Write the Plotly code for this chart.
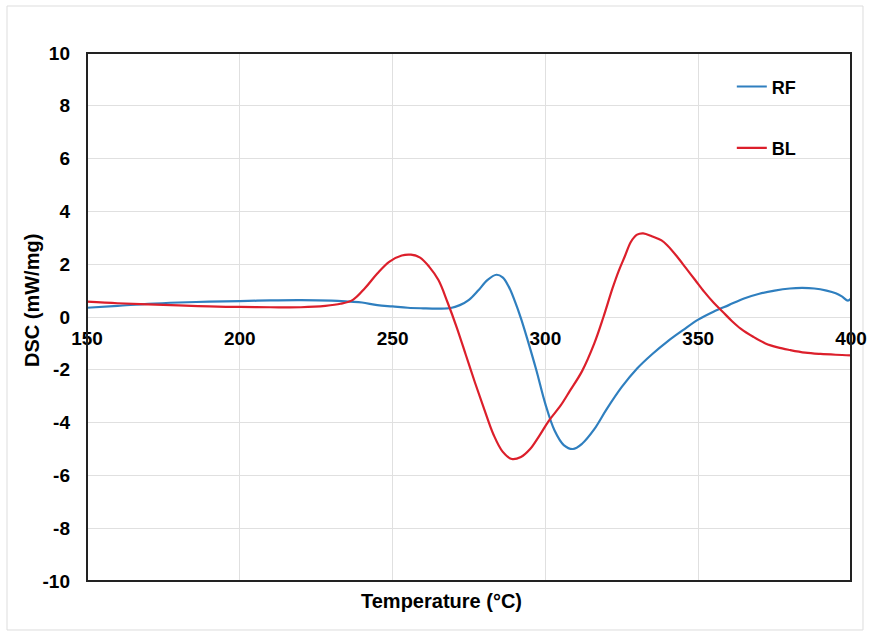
import plotly.graph_objects as go

# RF (blue) series
rf_temp = [150, 160, 170, 180, 190, 200, 210, 220, 230, 236, 240, 245, 250, 255, 260, 265, 269, 272, 275, 278, 281, 284,
           286, 288, 290, 292, 294, 297, 300, 303, 306, 309, 312, 316, 320, 325, 330, 335, 340, 345, 350, 355, 360,
           365, 370, 375, 380, 384, 388, 392, 395, 397, 399, 400]
rf_dsc = [0.35, 0.42, 0.5, 0.55, 0.58, 0.6, 0.63, 0.64, 0.62, 0.58, 0.55, 0.45, 0.4, 0.35, 0.33, 0.32, 0.34, 0.45, 0.65, 1.0, 1.4, 1.6,
          1.5, 1.15, 0.6, -0.05, -0.8, -2.0, -3.3, -4.3, -4.85, -5.0, -4.8, -4.25, -3.5, -2.65, -1.95, -1.4, -0.92, -0.5, -0.1, 0.2, 0.45,
          0.7, 0.88, 1.0, 1.08, 1.1, 1.08, 1.0, 0.9, 0.78, 0.62, 0.7]

# BL (red) series
bl_temp = [150, 160, 170, 180, 190, 200, 210, 220, 228, 233, 237, 241, 245, 249, 253, 256, 259, 262, 265, 268,
           271, 274, 277, 280, 283, 286, 289, 292, 295, 298, 301, 305, 308, 312, 316, 319, 322, 324, 326,
           328, 330, 332, 335, 338, 340, 343, 346, 349, 352, 355, 358, 361, 364, 368, 372, 376, 380, 385,
           390, 395, 400]
bl_dsc = [0.58, 0.52, 0.48, 0.44, 0.4, 0.38, 0.37, 0.37, 0.42, 0.5, 0.65, 1.1, 1.65, 2.1, 2.33, 2.36, 2.25, 1.9, 1.4, 0.55,
          -0.4, -1.45, -2.5, -3.5, -4.45, -5.1, -5.38, -5.3, -5.0, -4.5, -3.95, -3.35, -2.8, -2.05, -1.0, 0.0, 1.1, 1.75, 2.3,
          2.85, 3.12, 3.17, 3.05, 2.9, 2.7, 2.3, 1.85, 1.4, 0.95, 0.55, 0.2, -0.15, -0.45, -0.75, -1.0, -1.15, -1.25, -1.35,
          -1.4, -1.43, -1.45]

x_ticks = [150, 200, 250, 300, 350, 400]
y_ticks = [-10, -8, -6, -4, -2, 0, 2, 4, 6, 8, 10]

FONT = "Liberation Sans, Arial, sans-serif"
GRID = "#e0e0e0"

fig = go.Figure()
fig.add_trace(go.Scatter(x=rf_temp, y=rf_dsc, name="RF", mode="lines", legendgroup="rf",
                         line=dict(color="#2f7fbf", width=2.2, shape="spline", smoothing=1.0)))
fig.add_trace(go.Scatter(x=bl_temp, y=bl_dsc, name="BL", mode="lines", legendgroup="bl",
                         line=dict(color="#dc1f2b", width=2.2, shape="spline", smoothing=1.0)))

fig.update_layout(
    width=870, height=631,
    margin=dict(l=87, r=19, t=53, b=50, autoexpand=False),
    paper_bgcolor="white", plot_bgcolor="white",
    font=dict(family=FONT, color="black", size=19, weight="bold"),
    showlegend=True,
    legend=dict(x=0.844, y=0.971, xanchor="left", yanchor="top", bgcolor="rgba(0,0,0,0)",
                font=dict(family=FONT, size=18, weight="bold"), tracegroupgap=35,
                traceorder="grouped", itemwidth=30),
    xaxis=dict(range=[150, 400], tickvals=x_ticks, ticktext=[str(v) for v in x_ticks],
               anchor="free", position=0.5, showline=False, ticks="", ticklabelstandoff=8,
               showgrid=True, gridcolor=GRID, gridwidth=1, zeroline=False, automargin=False,
               tickfont=dict(family=FONT, size=19, weight="bold")),
    yaxis=dict(range=[-10, 10], tickvals=y_ticks, ticktext=[str(v) for v in y_ticks],
               showline=False, ticks="", ticklabelstandoff=16, automargin=False,
               showgrid=True, gridcolor=GRID, gridwidth=1,
               zeroline=True, zerolinecolor=GRID, zerolinewidth=1,
               tickfont=dict(family=FONT, size=19, weight="bold")),
    shapes=[
        dict(type="rect", xref="paper", yref="paper", x0=0, x1=1, y0=0, y1=1,
             line=dict(color="#222222", width=2), layer="above"),
        dict(type="rect", xref="paper", yref="paper", x0=-0.1047, x1=1.0157, y0=-0.0928, y1=1.089,
             line=dict(color="#dddddd", width=1), layer="below"),
    ],
    annotations=[
        dict(text="Temperature (°C)", xref="paper", yref="paper", x=(441 - 87) / 764, y=(581 - 601) / 528,
             xanchor="center", yanchor="middle", showarrow=False,
             font=dict(family=FONT, size=20, weight="bold")),
        dict(text="DSC (mW/mg)", xref="paper", yref="paper", x=(32 - 87) / 764, y=(581 - 300) / 528,
             xanchor="center", yanchor="middle", showarrow=False, textangle=-90,
             font=dict(family=FONT, size=20, weight="bold")),
    ],
)

fig.write_html("out.html")
